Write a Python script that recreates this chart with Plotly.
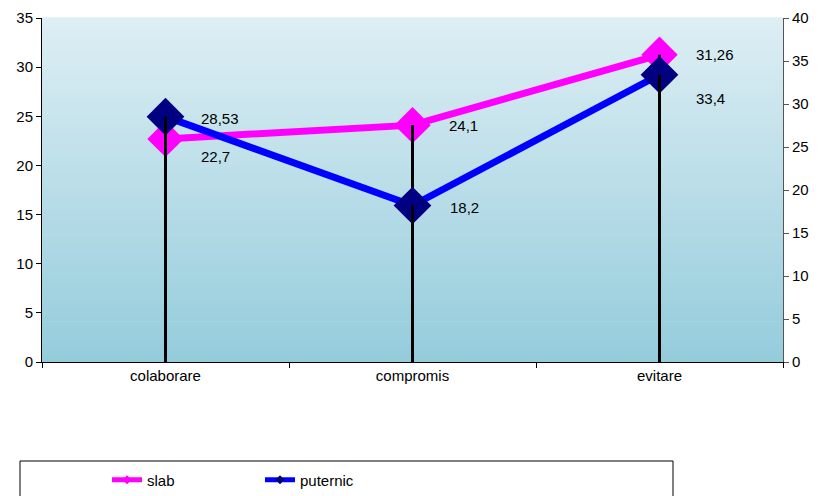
import plotly.graph_objects as go

categories = ["colaborare", "compromis", "evitare"]
slab = [22.7, 24.1, 31.26]
puternic = [28.53, 18.2, 33.4]
left_ticks = [0, 5, 10, 15, 20, 25, 30, 35]
right_ticks = [0, 5, 10, 15, 20, 25, 30, 35, 40]

# styling: label offsets (px) for each series
slab_label_shift = [(33, -18), (34, 0), (34, 0)]
put_label_shift = [(33, -2), (35, -2), (34, -24)]

FONT = "Liberation Sans, Arial"

def fmt(v):
    return str(v).replace(".", ",")

def drop_xy(vals):
    xs, ys = [], []
    for c, v in zip(categories, vals):
        xs += [c, c, None]
        ys += [v, 0, None]
    return xs, ys

fig = go.Figure()

fig.add_trace(go.Scatter(
    x=categories, y=slab, name="slab", mode="lines+markers",
    line=dict(color="#FF00FF", width=7),
    marker=dict(symbol="diamond", size=28, color="#FF00FF"),
    yaxis="y", showlegend=False,
))
dx, dy = drop_xy(slab)
fig.add_trace(go.Scatter(x=dx, y=dy, mode="lines", line=dict(color="black", width=3),
                         showlegend=False, hoverinfo="skip", yaxis="y"))
fig.add_trace(go.Scatter(
    x=categories, y=puternic, name="puternic", mode="lines+markers",
    line=dict(color="#0000FF", width=7),
    marker=dict(symbol="diamond", size=29, color="#000080"),
    yaxis="y2", showlegend=False,
))
dx, dy = drop_xy(puternic)
fig.add_trace(go.Scatter(x=dx, y=dy, mode="lines", line=dict(color="black", width=3),
                         showlegend=False, hoverinfo="skip", yaxis="y2"))

# legend-only entries (small markers)
fig.add_trace(go.Scatter(x=[None], y=[None], name="slab", mode="lines+markers",
                         line=dict(color="#FF00FF", width=5),
                         marker=dict(symbol="diamond", size=7, color="#FF00FF")))
fig.add_trace(go.Scatter(x=[None], y=[None], name="puternic", mode="lines+markers",
                         line=dict(color="#0000FF", width=5),
                         marker=dict(symbol="diamond", size=7, color="#000080")))

annotations = []
for c, v, (sx, sy) in zip(categories, slab, slab_label_shift):
    annotations.append(dict(x=c, y=v, xref="x", yref="y", text=fmt(v), showarrow=False,
                            xanchor="left", yanchor="middle", xshift=sx, yshift=sy,
                            font=dict(family=FONT, size=15, color="black")))
for c, v, (sx, sy) in zip(categories, puternic, put_label_shift):
    annotations.append(dict(x=c, y=v, xref="x", yref="y2", text=fmt(v), showarrow=False,
                            xanchor="left", yanchor="middle", xshift=sx, yshift=sy,
                            font=dict(family=FONT, size=15, color="black")))

# gradient background
shapes = []
n = 60
top = (222, 238, 244)
bot = (148, 204, 220)
for i in range(n):
    t = (i + 0.5) / n
    col = tuple(round(top[k] + (bot[k] - top[k]) * t) for k in range(3))
    shapes.append(dict(type="rect", xref="paper", yref="paper", x0=0, x1=1,
                       y0=1 - (i + 1) / n, y1=1 - i / n + 0.002, layer="below",
                       line=dict(width=0), fillcolor="rgb(%d,%d,%d)" % col))

# page has an 8px body offset; figure is sized to compensate
OFF = 8
FW, FH = 820 - OFF, 496 - OFF
W, H = 741, 344
L, T = 42 - OFF, 18 - OFF
def px2x(p): return (p - OFF - L) / W
def py2y(p): return (T + H - (p - OFF)) / H
shapes.append(dict(type="rect", xref="paper", yref="paper",
                   x0=px2x(20), x1=px2x(673), y0=py2y(520), y1=py2y(461),
                   line=dict(color="black", width=1), fillcolor="rgba(0,0,0,0)"))

fig.update_layout(
    width=FW, height=FH,
    margin=dict(l=L, r=FW - L - W, t=T, b=FH - T - H, autoexpand=False),
    paper_bgcolor="white", plot_bgcolor="rgba(0,0,0,0)",
    font=dict(family=FONT, size=15, color="black"),
    xaxis=dict(type="category", range=[-0.5, 2.5], tickson="boundaries",
               ticks="outside", ticklen=5, tickcolor="black",
               showline=True, linecolor="black", linewidth=1, showgrid=False,
               tickfont=dict(size=15), zeroline=False),
    yaxis=dict(range=[0, 35], tickvals=left_ticks, ticks="outside", ticklen=5,
               tickcolor="black", showline=True, linecolor="black", linewidth=1,
               showgrid=False, zeroline=False, tickfont=dict(size=15)),
    yaxis2=dict(range=[0, 40], tickvals=right_ticks, overlaying="y", side="right",
                ticks="outside", ticklen=5, tickcolor="#555", showline=True,
                linecolor="#555", linewidth=1, showgrid=False, zeroline=False,
                tickfont=dict(size=15)),
    legend=dict(orientation="h", x=px2x(107), xanchor="left", y=py2y(480), yanchor="middle",
                entrywidth=108, font=dict(size=15), bgcolor="rgba(0,0,0,0)", itemwidth=30),
    shapes=shapes,
    annotations=annotations,
    showlegend=True,
)

fig.write_html("out.html")
